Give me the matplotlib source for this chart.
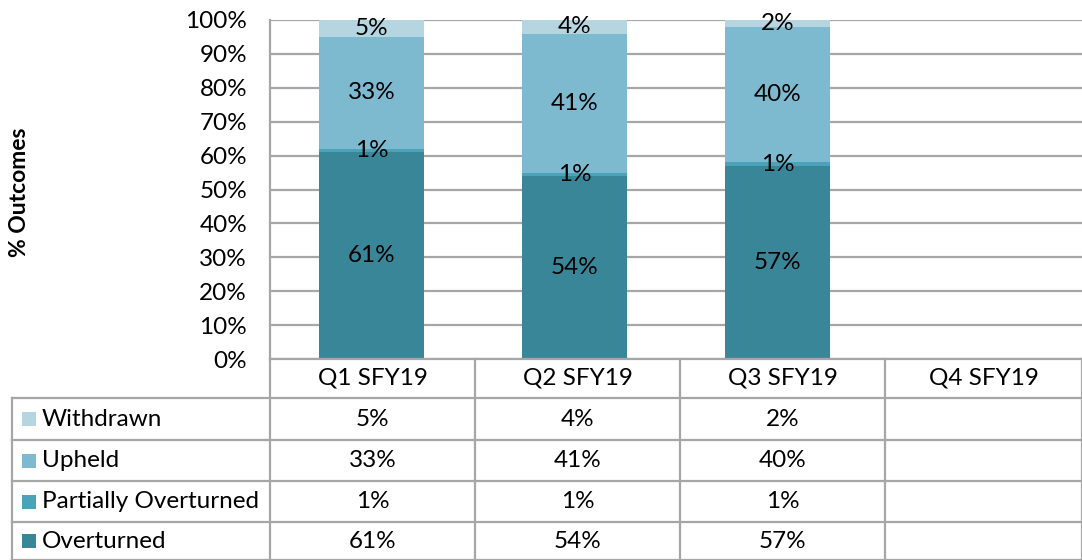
import matplotlib
matplotlib.use('Agg')
import matplotlib.pyplot as plt
from matplotlib.lines import Line2D
from matplotlib.patches import Rectangle
import numpy as np

plt.rcParams['font.family'] = ['Lato', 'DejaVu Sans']

# --- data ---
quarters = ['Q1 SFY19', 'Q2 SFY19', 'Q3 SFY19', 'Q4 SFY19']
series = ['Overturned', 'Partially Overturned', 'Upheld', 'Withdrawn']
overturned = [61, 54, 57]
partially = [1, 1, 1]
upheld = [33, 41, 40]
withdrawn = [5, 4, 2]
colors = ['#3A8699', '#4AA3B8', '#7DBACF', '#B5D6E1']

values = [overturned, partially, upheld, withdrawn]

FS = 17.5

W, H = 1082, 560
fig = plt.figure(figsize=(W / 100, H / 100), dpi=100)

# plot area in pixels
x0, x1 = 270, 1082
ytop, ybot = 20, 359
ax = fig.add_axes([x0 / W, 1 - ybot / H, (x1 - x0) / W, (ybot - ytop) / H])

grid_c = '#A6A6A6'
n = len(quarters)
xpos = np.arange(n)
bottom = np.zeros(len(overturned))
for vals, col in zip(values, colors):
    v = np.array(vals, dtype=float)
    ax.bar(xpos[:len(v)], v, bottom=bottom, width=0.515, color=col, zorder=3)
    for xi, (b, h) in enumerate(zip(bottom, v)):
        ax.text(xi, b + h / 2, f'{int(h)}%', ha='center', va='center',
                fontsize=FS, color='black', zorder=4)
    bottom += v

ax.set_xlim(-0.5, n - 0.5)
ax.set_ylim(0, 100)
ax.set_yticks(np.arange(0, 101, 10))
ax.set_yticklabels([f'{t}%' for t in range(0, 101, 10)], fontsize=FS)
ax.set_xticks([])
ax.tick_params(axis='y', length=0, pad=16.5)
for s in ['top', 'right', 'bottom']:
    ax.spines[s].set_visible(False)
ax.spines['left'].set_color(grid_c)
ax.spines['left'].set_linewidth(1.6)
ax.yaxis.grid(True, color=grid_c, linewidth=1.6, zorder=0)
ax.set_axisbelow(True)

fig.text(20 / W, 1 - 192 / H, '% Outcomes', rotation=90, ha='center', va='center',
         fontsize=16.5, fontweight='bold')

# --- data table ---
def fx(px):
    return px / W

def fy(py):
    return 1 - py / H

col_edges = [270, 475, 680, 885, 1082]
row_edges = [359, 398, 440, 481, 522, 560]
tbl_left = 12

def hline(xa, xb, y):
    fig.add_artist(Line2D([fx(xa), fx(xb)], [fy(y), fy(y)], color=grid_c, lw=1.6))

def vline(x, ya, yb):
    fig.add_artist(Line2D([fx(x), fx(x)], [fy(ya), fy(yb)], color=grid_c, lw=1.6))

hline(270, 1082, row_edges[0])
for y in row_edges[1:]:
    hline(tbl_left, 1082, y)
for x in col_edges:
    vline(x, row_edges[0], H)
vline(tbl_left, row_edges[1], H)

# header texts
for i, q in enumerate(quarters):
    cx = (col_edges[i] + col_edges[i + 1]) / 2
    cy = (row_edges[0] + row_edges[1]) / 2
    fig.text(fx(cx), fy(cy), q, ha='center', va='center', fontsize=FS)

# rows: withdrawn on top down to overturned
table_order = [3, 2, 1, 0]
for r, si in enumerate(table_order):
    cy = (row_edges[r + 1] + row_edges[r + 2]) / 2
    fig.add_artist(Rectangle((fx(22), fy(cy + 7)), 14 / W, 14 / H,
                             facecolor=colors[si], edgecolor='none',
                             transform=fig.transFigure))
    fig.text(fx(42), fy(cy), series[si], ha='left', va='center', fontsize=FS)
    for ci, v in enumerate(values[si]):
        cx = (col_edges[ci] + col_edges[ci + 1]) / 2
        fig.text(fx(cx), fy(cy), f'{v}%', ha='center', va='center', fontsize=FS)

fig.savefig('out.png', dpi=100)
